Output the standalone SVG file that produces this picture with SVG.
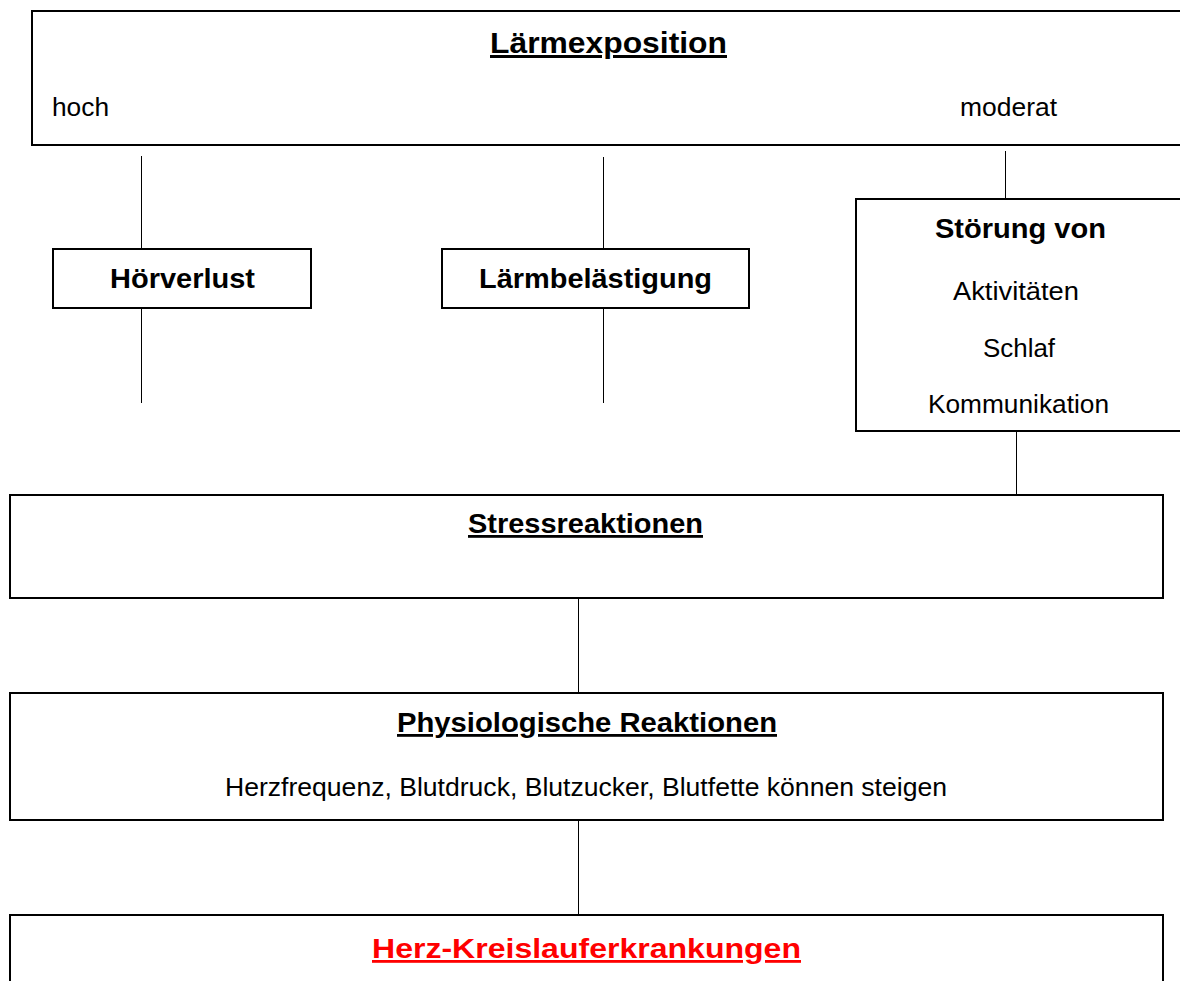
<svg xmlns="http://www.w3.org/2000/svg" width="1180" height="981" viewBox="0 0 1180 981">
  <style>
    .box { fill: #ffffff; stroke: #000000; stroke-width: 2; }
    .conn { stroke: #000000; stroke-width: 1; fill: none; }
    .t { font-family: "Liberation Sans", Arial, sans-serif; fill: #000000; text-anchor: middle; }
    .reg { font-size: 25.5px; }
    .bold { font-size: 28px; font-weight: bold; }
    .title { font-size: 30px; font-weight: bold; text-decoration: underline; }
    .ul { text-decoration: underline; }
    .red { fill: #ff0000; }
  </style>
  <rect x="0" y="0" width="1180" height="981" fill="#ffffff"/>

  <g id="connectors">
    <line class="conn" x1="141.5" y1="156" x2="141.5" y2="249"/>
    <line class="conn" x1="141.5" y1="308" x2="141.5" y2="403"/>
    <line class="conn" x1="603.5" y1="157" x2="603.5" y2="249"/>
    <line class="conn" x1="603.5" y1="308" x2="603.5" y2="403"/>
    <line class="conn" x1="1005.5" y1="151" x2="1005.5" y2="199"/>
    <line class="conn" x1="1016.5" y1="431" x2="1016.5" y2="496"/>
    <line class="conn" x1="578.5" y1="598" x2="578.5" y2="693"/>
    <line class="conn" x1="578.5" y1="820" x2="578.5" y2="915"/>
  </g>

  <g id="laermexposition">
    <rect class="box" x="32" y="11" width="1170" height="134"/>
    <text class="t title" x="608.5" y="53" textLength="237" lengthAdjust="spacingAndGlyphs">Lärmexposition</text>
    <text class="t reg" x="80.5" y="116" textLength="57" lengthAdjust="spacingAndGlyphs">hoch</text>
    <text class="t reg" x="1008.5" y="116" textLength="97" lengthAdjust="spacingAndGlyphs">moderat</text>
  </g>

  <g id="hoerverlust">
    <rect class="box" x="53" y="249" width="258" height="59"/>
    <text class="t bold" x="182.5" y="288" textLength="145" lengthAdjust="spacingAndGlyphs">Hörverlust</text>
  </g>

  <g id="laermbelaestigung">
    <rect class="box" x="442" y="249" width="307" height="59"/>
    <text class="t bold" x="595.5" y="288" textLength="233" lengthAdjust="spacingAndGlyphs">Lärmbelästigung</text>
  </g>

  <g id="stoerung">
    <rect class="box" x="856" y="199" width="340" height="232"/>
    <text class="t bold" x="1020.5" y="238" textLength="171" lengthAdjust="spacingAndGlyphs">Störung von</text>
    <text class="t reg" x="1016" y="300" textLength="126" lengthAdjust="spacingAndGlyphs">Aktivitäten</text>
    <text class="t reg" x="1019" y="357" textLength="72" lengthAdjust="spacingAndGlyphs">Schlaf</text>
    <text class="t reg" x="1018.5" y="413" textLength="181" lengthAdjust="spacingAndGlyphs">Kommunikation</text>
  </g>

  <g id="stressreaktionen">
    <rect class="box" x="10" y="495" width="1153" height="103"/>
    <text class="t bold ul" x="585.5" y="533" textLength="235" lengthAdjust="spacingAndGlyphs">Stressreaktionen</text>
  </g>

  <g id="physiologische">
    <rect class="box" x="10" y="693" width="1153" height="127"/>
    <text class="t bold ul" x="587" y="732" textLength="380" lengthAdjust="spacingAndGlyphs">Physiologische Reaktionen</text>
    <text class="t reg" x="586" y="796" textLength="722" lengthAdjust="spacingAndGlyphs">Herzfrequenz, Blutdruck, Blutzucker, Blutfette können steigen</text>
  </g>

  <g id="herzkreislauf">
    <rect class="box" x="10" y="915" width="1153" height="90"/>
    <text class="t bold ul red" x="586.5" y="958" textLength="429" lengthAdjust="spacingAndGlyphs">Herz-Kreislauferkrankungen</text>
  </g>
</svg>
